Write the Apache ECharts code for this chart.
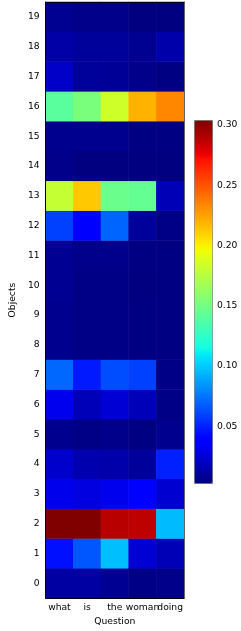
<!DOCTYPE html>
<html><head><meta charset="utf-8">
<script src="https://cdn.jsdelivr.net/npm/echarts@6/dist/echarts.min.js"></script>
<style>html,body{margin:0;padding:0;background:#fff}#c{width:241px;height:631px}</style>
</head><body><div id="c"></div>
<script>
// ---- data ----
const questionWords = ['what', 'is', 'the', 'woman', 'doing'];
const objectLabels = ['0','1','2','3','4','5','6','7','8','9','10','11','12','13','14','15','16','17','18','19'];
// attention per object (index 0..19) for each question word
const whatValues  = [0.012,0.045,0.304,0.031,0.023,0.007,0.032,0.071,0.007,0.007,0.008,0.008,0.060,0.180,0.006,0.007,0.141,0.022,0.013,0.0075];
const isValues    = [0.012,0.066,0.304,0.028,0.015,0.005,0.018,0.048,0.005,0.005,0.005,0.006,0.037,0.213,0.003,0.007,0.153,0.010,0.010,0.006];
const theValues   = [0.008,0.097,0.289,0.032,0.014,0.006,0.025,0.063,0.005,0.005,0.005,0.006,0.070,0.147,0.003,0.007,0.184,0.009,0.010,0.006];
const womanValues = [0.005,0.025,0.288,0.038,0.010,0.004,0.018,0.060,0.004,0.004,0.003,0.004,0.010,0.145,0.003,0.004,0.220,0.006,0.0075,0.003];
const doingValues = [0.006,0.017,0.096,0.024,0.050,0.007,0.005,0.005,0.004,0.004,0.004,0.004,0.005,0.017,0.003,0.004,0.234,0.004,0.014,0.003];
const colorbarTicks = [0.05, 0.10, 0.15, 0.20, 0.25, 0.30];
const valueMin = 0.003;
const valueMax = 0.304;

// ---- jet colormap stops ----
const jetSeg = {
  r: [[0,0],[0.35,0],[0.66,1],[0.89,1],[1,0.5]],
  g: [[0,0],[0.125,0],[0.375,1],[0.64,1],[0.91,0],[1,0]],
  b: [[0,0.5],[0.11,1],[0.34,1],[0.65,0],[1,0]]
};
function seg(s, t) {
  for (let i = 1; i < s.length; i++) {
    if (t <= s[i][0]) {
      const [x0,y0] = s[i-1], [x1,y1] = s[i];
      return y0 + (y1 - y0) * (t - x0) / (x1 - x0);
    }
  }
  return s[s.length-1][1];
}
const jetColors = [];
for (let i = 0; i <= 200; i++) {
  const t = i / 200;
  const c = ['r','g','b'].map(k => Math.round(255 * seg(jetSeg[k], t)));
  jetColors.push('rgb(' + c.join(',') + ')');
}

const columns = [whatValues, isValues, theValues, womanValues, doingValues];
const heatData = [];
columns.forEach((col, xi) => col.forEach((v, yi) => heatData.push([xi, yi, v])));

const chart = echarts.init(document.getElementById('c'));
const txt = { color: '#000', fontSize: 9.2, fontFamily: 'DejaVu Sans' };
chart.setOption({
  animation: false,
  backgroundColor: '#fff',
  grid: [
    { left: 34, right: 57, top: 2, bottom: 30 },
    { left: 194, top: 120, width: 18, height: 363 }
  ],
  xAxis: [
    { type: 'category', data: questionWords, gridIndex: 0, position: 'bottom', z: 10,
      name: 'Question', nameLocation: 'middle', nameGap: 17, nameTextStyle: txt,
      axisLine: { lineStyle: { color: '#000', width: 1 } },
      axisTick: { alignWithLabel: true, length: 3.5, lineStyle: { color: '#000' } },
      axisLabel: Object.assign({ interval: 0, hideOverlap: false, margin: 5 }, txt),
      splitLine: { show: false } },
    { type: 'category', data: questionWords, gridIndex: 0, position: 'top', z: 10,
      axisLine: { lineStyle: { color: '#000', width: 1 } },
      axisTick: { show: false }, axisLabel: { show: false } },
    { type: 'value', gridIndex: 1, show: false }
  ],
  yAxis: [
    { type: 'category', data: objectLabels, gridIndex: 0, position: 'left', z: 10,
      name: 'Objects', nameLocation: 'middle', nameGap: 27, nameTextStyle: txt,
      axisLine: { lineStyle: { color: '#000', width: 1 } },
      axisTick: { alignWithLabel: true, length: 3.5, lineStyle: { color: '#000' } },
      axisLabel: Object.assign({ interval: 0, margin: 6 }, txt),
      splitLine: { show: false } },
    { type: 'category', data: objectLabels, gridIndex: 0, position: 'right', z: 10,
      axisLine: { lineStyle: { color: '#666', width: 1 } },
      axisTick: { show: false }, axisLabel: { show: false } },
    { type: 'value', gridIndex: 1, position: 'right', min: valueMin, max: valueMax,
      axisLine: { show: false }, splitLine: { show: false },
      axisTick: { show: true, length: 3.5, customValues: colorbarTicks, lineStyle: { color: '#000' } },
      axisLabel: Object.assign({ customValues: colorbarTicks, margin: 5,
        formatter: v => Number(v).toFixed(2) }, txt) }
  ],
  visualMap: {
    type: 'continuous', min: valueMin, max: valueMax, seriesIndex: 0,
    calculable: false, orient: 'vertical', left: 194, top: 120,
    itemWidth: 18, itemHeight: 363, text: null, showLabel: false,
    padding: 0, borderColor: '#777', borderWidth: 1,
    inRange: { color: jetColors }
  },
  series: [{
    type: 'heatmap', xAxisIndex: 0, yAxisIndex: 0, data: heatData,
    itemStyle: { borderWidth: 0 },
    emphasis: { disabled: true }
  }]
});
</script></body></html>
